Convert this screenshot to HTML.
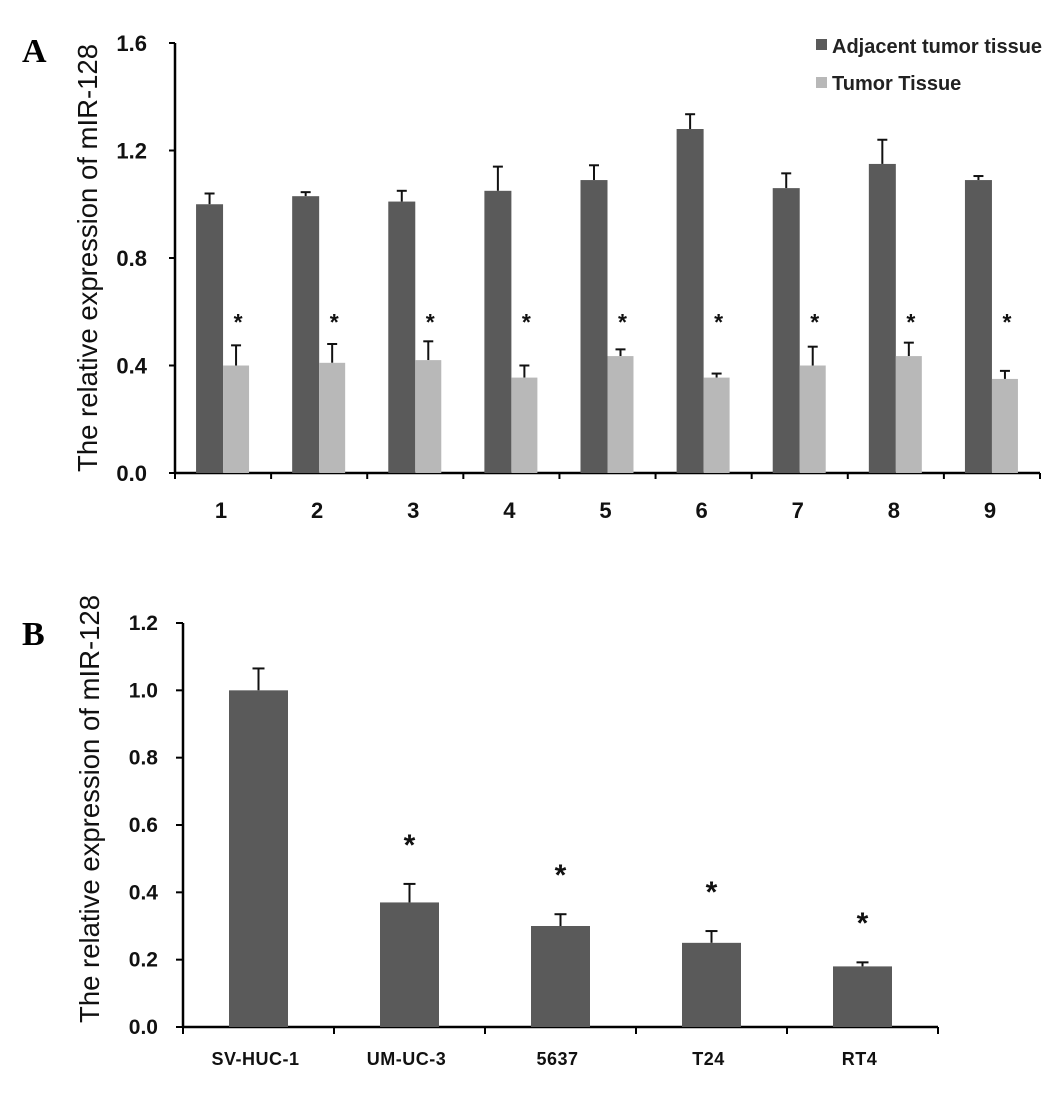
<!DOCTYPE html>
<html><head><meta charset="utf-8"><style>
body{margin:0;background:#fff;}
svg text{font-family:"Liberation Sans",Arial,sans-serif;}
</style></head><body>
<svg id="chart" width="1051" height="1108" xmlns="http://www.w3.org/2000/svg">
<text x="22" y="62" font-weight="bold" font-size="34" style="font-family:'Liberation Serif',serif">A</text>
<text x="22" y="645" font-weight="bold" font-size="34" style="font-family:'Liberation Serif',serif">B</text>
<g id="pa"></g>
<g id="pb"></g>
<g>
<rect x="816" y="39" width="11" height="11" fill="#5a5a5a"/>
<text x="832" y="53" font-size="20" font-weight="bold" fill="#222">Adjacent tumor tissue</text>
<rect x="816" y="77" width="11" height="11" fill="#b8b8b8"/>
<text x="832" y="90" font-size="20" font-weight="bold" fill="#222">Tumor Tissue</text>
</g>
</svg>
<script>
const catsA = ["1","2","3","4","5","6","7","8","9"];
const adjVals = [1.00,1.03,1.01,1.05,1.09,1.28,1.06,1.15,1.09];
const adjErr = [0.04,0.015,0.04,0.09,0.055,0.055,0.055,0.09,0.015];
const tumVals = [0.40,0.41,0.42,0.355,0.435,0.355,0.40,0.435,0.35];
const tumErr = [0.075,0.07,0.07,0.045,0.025,0.015,0.07,0.05,0.03];
const ticksA = [0.0,0.4,0.8,1.2,1.6];
const catsB = ["SV-HUC-1","UM-UC-3","5637","T24","RT4"];
const valsB = [1.0,0.37,0.30,0.25,0.18];
const errB = [0.065,0.055,0.035,0.035,0.012];
const sigB = [false,true,true,true,true];
const ticksB = [0.0,0.2,0.4,0.6,0.8,1.0,1.2];

const NS="http://www.w3.org/2000/svg";
function mk(parent,tag,attrs,text){const e=document.createElementNS(NS,tag);for(const k in attrs)e.setAttribute(k,attrs[k]);if(text!==undefined)e.textContent=text;parent.appendChild(e);return e;}

// Panel A
(function(){
  const g=document.getElementById('pa');
  const x0=175,x1=1040,y0=473,yTop=43,max=1.6;
  const y=v=>y0-(v/max)*(y0-yTop);
  const step=(x1-x0)/catsA.length;
  const cx=i=>x0+step*(i+0.5);
  let e=mk(g,'line',{x1:x0,y1:yTop,x2:x0,y2:y0,stroke:'#000','stroke-width':2.5});
  
  
  e=mk(g,'line',{x1:x0,y1:y0,x2:x1,y2:y0,stroke:'#000','stroke-width':2.5});
  
  
  ticksA.forEach(t=>{
    mk(g,'line',{x1:x0-6,y1:y(t),x2:x0,y2:y(t),stroke:'#000','stroke-width':2});
    e=mk(g,'text',{x:x0-28,y:y(t)+8,'font-size':22,'font-weight':'bold','text-anchor':'end',fill:'#111'},t.toFixed(1));
    
    
  });
  for(let i=0;i<=catsA.length;i++) mk(g,'line',{x1:x0+step*i,y1:y0,x2:x0+step*i,y2:y0+6,stroke:'#000','stroke-width':2});
  catsA.forEach((c,i)=>{
    e=mk(g,'text',{x:cx(i)-2,y:518,'font-size':22,'font-weight':'bold','text-anchor':'middle',fill:'#111'},c);
    
    
    const ta=y(adjVals[i]+adjErr[i]);
    mk(g,'line',{x1:cx(i)-13.5,y1:ta,x2:cx(i)-13.5,y2:y(adjVals[i]),stroke:'#111','stroke-width':2});
    mk(g,'line',{x1:cx(i)-18.5,y1:ta,x2:cx(i)-8.5,y2:ta,stroke:'#111','stroke-width':2});
    e=mk(g,'rect',{x:cx(i)-27,y:y(adjVals[i]),width:27,height:y0-y(adjVals[i]),fill:'#5a5a5a'});
    
    
    const tt=y(tumVals[i]+tumErr[i]);
    mk(g,'line',{x1:cx(i)+13,y1:tt,x2:cx(i)+13,y2:y(tumVals[i]),stroke:'#111','stroke-width':2});
    mk(g,'line',{x1:cx(i)+8,y1:tt,x2:cx(i)+18,y2:tt,stroke:'#111','stroke-width':2});
    e=mk(g,'rect',{x:cx(i),y:y(tumVals[i]),width:26,height:y0-y(tumVals[i]),fill:'#b8b8b8'});
    
    
    e=mk(g,'text',{x:cx(i)+15,y:330,'font-size':23,'font-weight':'bold','text-anchor':'middle',fill:'#111'},'*');
    
    
  });
  e=mk(g,'text',{x:0,y:0,'font-size':27.5,'text-anchor':'middle',fill:'#111',transform:'translate(97,258) rotate(-90)'},'The relative expression of mIR-128');
  
  
})();

// Panel B
(function(){
  const g=document.getElementById('pb');
  const x0=183,x1=938,y0=1027,yTop=623,max=1.2;
  const y=v=>y0-(v/max)*(y0-yTop);
  const step=(x1-x0)/catsB.length;
  const cx=i=>x0+step*(i+0.5);
  let e=mk(g,'line',{x1:x0,y1:yTop,x2:x0,y2:y0,stroke:'#000','stroke-width':2.5});
  
  
  e=mk(g,'line',{x1:x0,y1:y0,x2:x1,y2:y0,stroke:'#000','stroke-width':2.5});
  
  
  ticksB.forEach(t=>{
    mk(g,'line',{x1:x0-7,y1:y(t),x2:x0,y2:y(t),stroke:'#000','stroke-width':2});
    e=mk(g,'text',{x:x0-25,y:y(t)+7,'font-size':21,'font-weight':'bold','text-anchor':'end',fill:'#111'},t.toFixed(1));
    
    
  });
  for(let i=0;i<=catsB.length;i++) mk(g,'line',{x1:x0+step*i,y1:y0,x2:x0+step*i,y2:y0+7,stroke:'#000','stroke-width':2});
  catsB.forEach((c,i)=>{
    e=mk(g,'text',{x:cx(i)-3,y:1065,'font-size':18,'font-weight':'bold','text-anchor':'middle',fill:'#111','letter-spacing':'0.5'},c);
    
    
    const te=y(valsB[i]+errB[i]);
    mk(g,'line',{x1:cx(i),y1:te,x2:cx(i),y2:y(valsB[i]),stroke:'#111','stroke-width':2});
    mk(g,'line',{x1:cx(i)-6,y1:te,x2:cx(i)+6,y2:te,stroke:'#111','stroke-width':2});
    e=mk(g,'rect',{x:cx(i)-29.5,y:y(valsB[i]),width:59,height:y0-y(valsB[i]),fill:'#5a5a5a'});
    
    
    if(sigB[i]){
      e=mk(g,'text',{x:cx(i),y:y(valsB[i]+errB[i]+0.14)+18,'font-size':30,'font-weight':'bold','text-anchor':'middle',fill:'#111'},'*');
      
      
    }
  });
  e=mk(g,'text',{x:0,y:0,'font-size':27.5,'text-anchor':'middle',fill:'#111',transform:'translate(99,809) rotate(-90)'},'The relative expression of mIR-128');
  
  
})();
</script>
</body></html>
